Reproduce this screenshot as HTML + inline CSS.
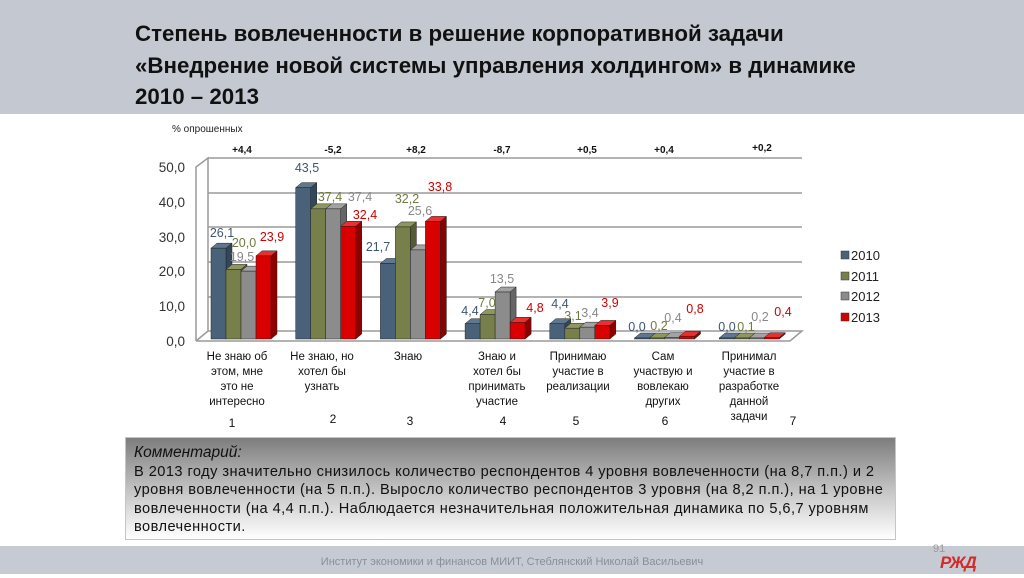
<!DOCTYPE html>
<html><head><meta charset="utf-8"><style>
body{margin:0;width:1024px;height:574px;overflow:hidden;background:#fff;font-family:"Liberation Sans",sans-serif;position:relative}
.hdr{position:absolute;left:0;top:0;width:1024px;height:114px;background:#c3c8d1}
.title{position:absolute;left:135px;top:18px;font:bold 22.3px/31.5px "Liberation Sans",sans-serif;color:#111}
.cm{position:absolute;left:125px;top:437px;width:771px;height:103px;background:linear-gradient(#7d7d7d,#c8c8c8 55%,#fff);border:1px solid #b8c8d8;box-sizing:border-box;padding:6px 8px;font-size:14.6px;letter-spacing:0.45px;line-height:18.5px;color:#111;white-space:nowrap}
.ftr{position:absolute;left:0;top:546px;width:1024px;height:28px;background:#c5cad3;color:#8a8f97;font-size:11px;text-align:center;line-height:32px}
</style></head><body>
<div class="hdr"></div>
<div class="title">Степень вовлеченности в решение корпоративной задачи<br>«Внедрение новой системы управления холдингом» в динамике<br>2010 – 2013</div>
<svg width="1024" height="440" style="position:absolute;left:0;top:0" font-family="Liberation Sans,sans-serif">
<text x="172" y="132" font-size="10" fill="#222">% опрошенных</text>
<g stroke="#9a9a9a" stroke-width="1.5" fill="none">
<polyline points="196,341 208,331 802,331 790,341 196,341"/>
<line x1="208" y1="297" x2="802" y2="297"/><line x1="208" y1="262" x2="802" y2="262"/>
<line x1="208" y1="227" x2="802" y2="227"/><line x1="208" y1="193" x2="802" y2="193"/>
<line x1="208" y1="158" x2="802" y2="158"/>
<polyline points="196,341 196,167 208,158 208,331"/>
</g>
<g font-size="13.5" fill="#333" text-anchor="end">
<text x="185" y="172">50,0</text><text x="185" y="207">40,0</text><text x="185" y="242">30,0</text>
<text x="185" y="276">20,0</text><text x="185" y="311">10,0</text><text x="185" y="346">0,0</text>
</g>
<g id="bars"></g>
<g font-size="12.5" text-anchor="middle">
<text x="222" y="237" fill="#3f5670">26,1</text><text x="244" y="247" fill="#6f7a3e">20,0</text><text x="242" y="261" fill="#888">19,5</text><text x="272" y="241" fill="#c00">23,9</text>
<text x="307" y="172" fill="#3f5670">43,5</text><text x="330" y="201" fill="#6f7a3e">37,4</text><text x="360" y="201" fill="#888">37,4</text><text x="365" y="219" fill="#c00">32,4</text>
<text x="378" y="251" fill="#3f5670">21,7</text><text x="407" y="203" fill="#6f7a3e">32,2</text><text x="420" y="215" fill="#888">25,6</text><text x="440" y="191" fill="#c00">33,8</text>
<text x="470" y="315" fill="#3f5670">4,4</text><text x="487" y="307" fill="#6f7a3e">7,0</text><text x="502" y="283" fill="#888">13,5</text><text x="535" y="312" fill="#c00">4,8</text>
<text x="560" y="308" fill="#3f5670">4,4</text><text x="573" y="320" fill="#6f7a3e">3,1</text><text x="590" y="317" fill="#888">3,4</text><text x="610" y="307" fill="#c00">3,9</text>
<text x="637" y="331" fill="#3f5670">0,0</text><text x="659" y="330" fill="#6f7a3e">0,2</text><text x="673" y="322" fill="#888">0,4</text><text x="695" y="313" fill="#c00">0,8</text>
<text x="727" y="331" fill="#3f5670">0,0</text><text x="746" y="331" fill="#6f7a3e">0,1</text><text x="760" y="321" fill="#888">0,2</text><text x="783" y="316" fill="#c00">0,4</text>
</g>
<g font-size="10" font-weight="bold" text-anchor="middle" fill="#111">
<text x="242" y="153">+4,4</text><text x="333" y="153">-5,2</text><text x="416" y="153">+8,2</text><text x="502" y="153">-8,7</text><text x="587" y="153">+0,5</text><text x="664" y="153">+0,4</text><text x="762" y="151">+0,2</text>
</g>
<g font-size="13" fill="#222">
<rect x="841" y="251" width="8" height="8" fill="#4a6279" stroke="#333" stroke-width=".5"/><text x="851" y="260">2010</text>
<rect x="841" y="272" width="8" height="8" fill="#77804a" stroke="#333" stroke-width=".5"/><text x="851" y="281">2011</text>
<rect x="841" y="292" width="8" height="8" fill="#8c8c8c" stroke="#333" stroke-width=".5"/><text x="851" y="301">2012</text>
<rect x="841" y="313" width="8" height="8" fill="#d00000" stroke="#333" stroke-width=".5"/><text x="851" y="322">2013</text>
</g>
<g font-size="11.5" fill="#111" text-anchor="middle">
<text x="237" y="360">Не знаю об</text><text x="237" y="375">этом,  мне</text><text x="237" y="390">это не</text><text x="237" y="405">интересно</text>
<text x="322" y="360">Не знаю, но</text><text x="322" y="375">хотел бы</text><text x="322" y="390">узнать</text>
<text x="408" y="360">Знаю</text>
<text x="497" y="360">Знаю и</text><text x="497" y="375">хотел бы</text><text x="497" y="390">принимать</text><text x="497" y="405">участие</text>
<text x="578" y="360">Принимаю</text><text x="578" y="375">участие в</text><text x="578" y="390">реализации</text>
<text x="663" y="360">Сам</text><text x="663" y="375">участвую и</text><text x="663" y="390">вовлекаю</text><text x="663" y="405">других</text>
<text x="749" y="360">Принимал</text><text x="749" y="375">участие в</text><text x="749" y="390">разработке</text><text x="749" y="405">данной</text><text x="749" y="420">задачи</text>
</g>
<g font-size="12" fill="#111" text-anchor="middle">
<text x="232" y="427">1</text><text x="333" y="423">2</text><text x="410" y="425">3</text><text x="503" y="425">4</text><text x="576" y="425">5</text><text x="665" y="425">6</text><text x="793" y="425">7</text>
</g>
</svg>
<div class="cm"><i style="font-size:15.5px;letter-spacing:0">Комментарий:</i><br>В 2013 году значительно снизилось количество респондентов 4 уровня вовлеченности (на 8,7 п.п.) и 2<br>уровня вовлеченности (на 5 п.п.). Выросло количество респондентов 3 уровня (на 8,2 п.п.), на 1 уровне<br>вовлеченности (на 4,4 п.п.). Наблюдается незначительная положительная динамика по 5,6,7 уровням<br>вовлеченности.</div>
<div class="ftr">Институт экономики и финансов МИИТ, Стеблянский Николай Васильевич</div>
<div style="position:absolute;left:933px;top:543px;font-size:11px;color:#999">91</div>
<div style="position:absolute;left:940px;top:553px;font:italic bold 17px 'Liberation Sans',sans-serif;color:#d42a2a;letter-spacing:-1px">РЖД</div>
<script>
var d=[[26.1,20,19.5,23.9],[43.5,37.4,37.4,32.4],[21.7,32.2,25.6,33.8],[4.4,7,13.5,4.8],[4.4,3.1,3.4,3.9],[0,0.2,0.4,0.8],[0,0.1,0.2,0.4]];
var c=[["#4a6279","#33475a","#5f7890"],["#77804a","#555c33","#8e9760"],["#8c8c8c","#666","#a3a3a3"],["#d80000","#8c0000","#e83030"]];
var s="",k=3.48,y0=339,dx=6,dy=-5,w=15;
d.forEach(function(g,gi){var x0=211+gi*84.7;g.forEach(function(v,i){var x=x0+i*w,h=Math.max(v*k,1),t=y0-h;
s+='<polygon points="'+(x+w)+','+y0+' '+(x+w+dx)+','+(y0+dy)+' '+(x+w+dx)+','+(t+dy)+' '+(x+w)+','+t+'" fill="'+c[i][1]+'" stroke="#222" stroke-width=".5"/>';
s+='<polygon points="'+x+','+t+' '+(x+dx)+','+(t+dy)+' '+(x+w+dx)+','+(t+dy)+' '+(x+w)+','+t+'" fill="'+c[i][2]+'" stroke="#222" stroke-width=".5"/>';
s+='<rect x="'+x+'" y="'+t+'" width="'+w+'" height="'+h+'" fill="'+c[i][0]+'" stroke="#222" stroke-width=".5"/>';});});
document.getElementById("bars").innerHTML=s;
</script>
</body></html>
